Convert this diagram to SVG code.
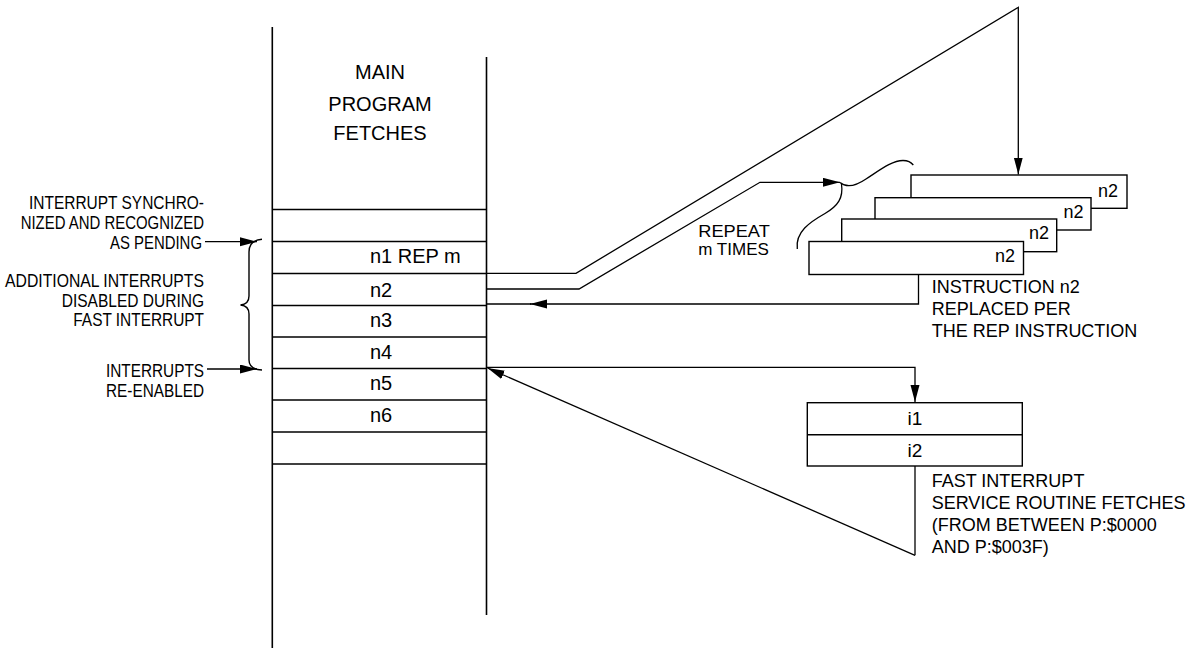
<svg xmlns="http://www.w3.org/2000/svg" width="1204" height="650" viewBox="0 0 1204 650">
<defs>
<marker id="ah" markerUnits="userSpaceOnUse" markerWidth="18" markerHeight="10" refX="17" refY="4.5" orient="auto">
<path d="M0,0 L17,4.5 L0,9 z" fill="#000"/>
</marker>
<style>
.t{font-family:"Liberation Sans",Arial,sans-serif;fill:#000}
.big{font-size:20px}
.mid{font-size:18px}
.lbl{font-size:18px}
.ln{stroke:#000;stroke-width:1.4;fill:none}
.col{stroke:#000;stroke-width:1.6;fill:none}
.box{stroke:#000;stroke-width:1.4;fill:#fff}
.con{stroke:#000;stroke-width:1.3;fill:none}
.arr{stroke:#000;stroke-width:1.3;fill:none;marker-end:url(#ah)}
</style>
</defs>
<rect width="1204" height="650" fill="#fff"/>

<g id="left-labels" class="t lbl">
<text x="29" y="209.3" textLength="175" lengthAdjust="spacingAndGlyphs">INTERRUPT SYNCHRO-</text>
<text x="20.7" y="229.3" textLength="183.3" lengthAdjust="spacingAndGlyphs">NIZED AND RECOGNIZED</text>
<text x="110" y="249.3" textLength="92" lengthAdjust="spacingAndGlyphs">AS PENDING</text>
<text x="5" y="286.7" textLength="199" lengthAdjust="spacingAndGlyphs">ADDITIONAL INTERRUPTS</text>
<text x="61.7" y="306.7" textLength="142.3" lengthAdjust="spacingAndGlyphs">DISABLED DURING</text>
<text x="73.3" y="326" textLength="130.7" lengthAdjust="spacingAndGlyphs">FAST INTERRUPT</text>
<text x="106" y="376.7" textLength="98" lengthAdjust="spacingAndGlyphs">INTERRUPTS</text>
<text x="106" y="396.7" textLength="98" lengthAdjust="spacingAndGlyphs">RE-ENABLED</text>
</g>

<g id="brace">
<path class="ln" d="M262,239.3 C253,240 249,244 249,252 L249,296 C249,301 246,304.5 240.5,305 C246,305.5 249,309 249,314 L249,360 C249,366 253,369.5 262,370"/>
</g>

<g id="main-column">
<line class="col" x1="272.3" y1="27" x2="272.3" y2="648"/>
<line class="col" x1="486.5" y1="57" x2="486.5" y2="615"/>
<text class="t big" x="380" y="79.3" text-anchor="middle">MAIN</text>
<text class="t big" x="380" y="110.7" text-anchor="middle">PROGRAM</text>
<text class="t big" x="380" y="140" text-anchor="middle">FETCHES</text>
<g class="ln">
<line x1="272.3" y1="209.5" x2="486.5" y2="209.5"/>
<line x1="272.3" y1="241.5" x2="486.5" y2="241.5"/>
<line x1="272.3" y1="273.5" x2="486.5" y2="273.5"/>
<line x1="272.3" y1="305.5" x2="486.5" y2="305.5"/>
<line x1="272.3" y1="337" x2="486.5" y2="337"/>
<line x1="272.3" y1="368.5" x2="486.5" y2="368.5"/>
<line x1="272.3" y1="400" x2="486.5" y2="400"/>
<line x1="272.3" y1="432" x2="486.5" y2="432"/>
<line x1="272.3" y1="464" x2="486.5" y2="464"/>
</g>
</g>
<g id="row-n1"><text class="t big" x="370" y="262.7">n1 REP m</text></g>
<g id="row-n2"><text class="t big" x="370" y="296.7">n2</text></g>
<g id="row-n3"><text class="t big" x="370" y="327.3">n3</text></g>
<g id="row-n4"><text class="t big" x="370" y="359">n4</text></g>
<g id="row-n5"><text class="t big" x="370" y="390">n5</text></g>
<g id="row-n6"><text class="t big" x="370" y="422.3">n6</text></g>

<g id="rep-stack">
<g id="rep-box-1">
<rect class="box" x="911" y="175" width="216" height="33.3"/>
<text class="t mid" x="1118" y="196.7" text-anchor="end">n2</text>
</g>
<g id="rep-box-2">
<rect class="box" x="875" y="197.7" width="216" height="32.3"/>
<text class="t mid" x="1083.5" y="217.7" text-anchor="end">n2</text>
</g>
<g id="rep-box-3">
<rect class="box" x="841.7" y="219" width="215" height="32.7"/>
<text class="t mid" x="1049" y="239.3" text-anchor="end">n2</text>
</g>
<g id="rep-box-4">
<rect class="box" x="809" y="241.5" width="214.5" height="33"/>
<text class="t mid" x="1015" y="262.3" text-anchor="end">n2</text>
</g>
<g id="rep-caption" class="t mid">
<text x="931.7" y="293.3">INSTRUCTION n2</text>
<text x="931.7" y="315">REPLACED PER</text>
<text x="931.7" y="336.7">THE REP INSTRUCTION</text>
</g>
</g>

<g id="repeat-label">
<text class="t" style="font-size:17px" x="698.3" y="236.5" textLength="71.5" lengthAdjust="spacingAndGlyphs">REPEAT</text>
<text class="t" style="font-size:17px" x="698.3" y="254.5">m TIMES</text>
<path class="con" d="M840,182.5 C846,187.5 855,186.5 866,179 C880,170 892,160.5 903,160.5 C908,160.5 911,162 913.3,165"/>
<path class="con" d="M841.5,184 C843.5,198 838,206 825,213.5 C810,222 795,232 797.3,249"/>
</g>

<g id="isr">
<rect class="box" x="807.3" y="402.7" width="215" height="63.3"/>
<line class="ln" x1="807.3" y1="434.7" x2="1022.3" y2="434.7"/>
<text class="t" style="font-size:19px" x="915" y="425" text-anchor="middle">i1</text>
<text class="t" style="font-size:19px" x="915" y="456.7" text-anchor="middle">i2</text>
<g class="t mid">
<text x="931.7" y="486.7">FAST INTERRUPT</text>
<text x="931.7" y="509.3">SERVICE ROUTINE FETCHES</text>
<text x="931.7" y="531">(FROM BETWEEN P:$0000</text>
<text x="931.7" y="553.3">AND P:$003F)</text>
</g>
</g>

<g id="connectors">
<path class="arr" d="M205,241.7 H257"/>
<path class="arr" d="M207,369 H257"/>
<path class="arr" d="M486.5,273.3 H576 L1018.3,7.3 V174.5"/>
<path class="arr" d="M486.5,289 H579 L760,182.3 H840"/>
<path class="arr" d="M918.5,274.5 V304 H530"/>
<path class="con" d="M531,304 H486.5"/>
<path class="arr" d="M486.5,367.3 H915 V402"/>
<path class="con" d="M915,466 V555.3"/>
<path class="arr" d="M915,555.3 L487.5,368"/>
</g>
</svg>
